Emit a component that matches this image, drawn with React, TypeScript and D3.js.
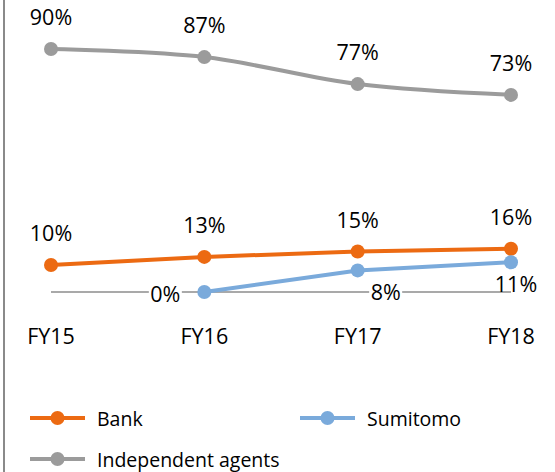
import React from "react";
import * as d3 from "d3";

const categories = ["FY15", "FY16", "FY17", "FY18"];
const bankValues = [10, 13, 15, 16];
const sumitomoValues: (number | null)[] = [null, 0, 8, 11];
const independentValues = [90, 87, 77, 73];
const seriesNames = ["Bank", "Sumitomo", "Independent agents"];

const W = 555;
const H = 472;
const FONT = "'Open Sans', sans-serif";

export default function App() {
  const x = d3.scalePoint<string>().domain(categories).range([51, 511]);
  const y = d3.scaleLinear().domain([0, 90]).range([292, 49]);

  const series = [
    { name: seriesNames[0], color: "#EC6A12", values: bankValues as (number | null)[], smooth: false },
    { name: seriesNames[1], color: "#7AAADB", values: sumitomoValues, smooth: false },
    { name: seriesNames[2], color: "#9B9B9B", values: independentValues as (number | null)[], smooth: true },
  ];

  const mkLine = (smooth: boolean) =>
    d3
      .line<{ c: string; v: number | null }>()
      .defined((d) => d.v !== null)
      .x((d) => x(d.c)!)
      .y((d) => y(d.v as number))
      .curve(smooth ? d3.curveCardinal : d3.curveLinear);

  const fs = 21.5;

  const labelFor = (si: number, i: number, v: number) => {
    const px = x(categories[i])!;
    const py = y(v);
    if (si === 1) {
      if (i === 1) return { x: px - 39, y: py + 1, bg: true };
      if (i === 2) return { x: px + 28, y: y(0) - 1, bg: true };
      return { x: px + 5, y: py + 21, bg: false };
    }
    return { x: px, y: py - 32.5, bg: false };
  };

  return (
    <svg
      width={W}
      height={H}
      style={{ position: "absolute", left: 0, top: 0, background: "#fff" }}
      fontFamily={FONT}
    >
      <rect x={0} y={0} width={W} height={H} fill="#fff" />
      <line x1={4} x2={4} y1={0} y2={H} stroke="#8a8a8a" strokeWidth={2} />
      <line x1={x(categories[0])} x2={x(categories[3])} y1={y(0)} y2={y(0)} stroke="#8c8c8c" strokeWidth={1.5} />
      {categories.map((c) => (
        <text key={c} x={x(c)} y={335} fontSize={fs} textAnchor="middle" dominantBaseline="central" fill="#000">
          {c}
        </text>
      ))}
      {series.map((s) => (
        <g key={s.name}>
          <path
            d={mkLine(s.smooth)(categories.map((c, i) => ({ c, v: s.values[i] })))!}
            fill="none"
            stroke={s.color}
            strokeWidth={4}
          />
          {s.values.map((v, i) =>
            v === null ? null : (
              <circle key={i} cx={x(categories[i])} cy={y(v)} r={7} fill={s.color} />
            )
          )}
        </g>
      ))}
      {series.map((s, si) =>
        s.values.map((v, i) => {
          if (v === null) return null;
          const l = labelFor(si, i, v);
          const t = `${v}%`;
          const w = t.length * 13.5;
          return (
            <g key={`${si}-${i}`}>
              {l.bg && <rect x={l.x - w / 2 - 3} y={l.y - 12} width={w + 6} height={24} fill="#fff" />}
              <text x={l.x} y={l.y} fontSize={fs} textAnchor="middle" dominantBaseline="central" fill="#000">
                {t}
              </text>
            </g>
          );
        })
      )}
      {[
        { s: series[0], lx: 30, ly: 418 },
        { s: series[1], lx: 300, ly: 418 },
        { s: series[2], lx: 30, ly: 459 },
      ].map(({ s, lx, ly }) => (
        <g key={s.name}>
          <line x1={lx} x2={lx + 55} y1={ly} y2={ly} stroke={s.color} strokeWidth={4} />
          <circle cx={lx + 27.5} cy={ly} r={7} fill={s.color} />
          <text x={lx + 67} y={ly} fontSize={19.5} dominantBaseline="central" fill="#000">
            {s.name}
          </text>
        </g>
      ))}
    </svg>
  );
}
